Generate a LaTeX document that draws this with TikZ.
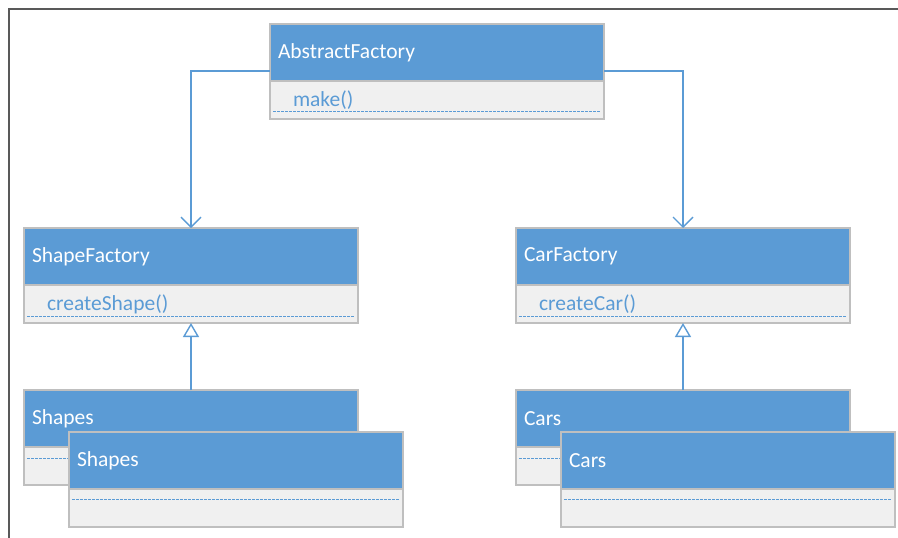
\documentclass[tikz,border=0pt]{standalone}
\usepackage{fontspec}
\setmainfont{Carlito}
\usetikzlibrary{positioning,arrows.meta}
\definecolor{hdrblue}{HTML}{5B9BD5}
\definecolor{bodygray}{HTML}{F0F0F0}
\definecolor{edgegray}{HTML}{BFBFBF}
\definecolor{framegray}{HTML}{595959}
\tikzset{
  head/.style={draw=edgegray, line width=1.2pt, fill=hdrblue, text=white,
    minimum width=334pt, minimum height=57pt, text width=318pt, inner xsep=8pt,
    align=left, anchor=north west, outer sep=0pt, font=\fontsize{21.5}{25}\selectfont},
  ops/.style={draw=edgegray, line width=1.2pt, fill=bodygray, text=hdrblue,
    minimum width=334pt, minimum height=38pt, text width=288pt, inner xsep=23pt,
    inner ysep=0pt, align=left, outer sep=0pt, font=\fontsize{21.5}{25}\selectfont},
  sep/.style={hdrblue, line width=1pt, dash pattern=on 2.5pt off 1.5pt},
  assoc/.style={hdrblue, line width=1.4pt, -{Straight Barb[length=10pt,width=20pt]}},
  inherit/.style={hdrblue, line width=1.4pt, -{Triangle[open,length=14pt,width=16pt]}}
}
\begin{document}
\begin{tikzpicture}[x=1pt, y=-1pt]
\useasboundingbox (0,0) rectangle (898,538);
\draw[framegray, line width=2pt] (8.5,538) -- (8.5,8.5) -- (898,8.5);

% abstract factory
\node[head] (absHead) at (270,24) {AbstractFactory};
\node[ops, below=0pt of absHead] (absOps) {make()};
\draw[sep] ([xshift=3pt,yshift=8pt]absOps.south west) -- ([xshift=-3pt,yshift=8pt]absOps.south east);

% concrete factories
\node[head] (sfHead) at (24,228) {ShapeFactory};
\node[ops, below=0pt of sfHead] (sfOps) {createShape()};
\draw[sep] ([xshift=3pt,yshift=7pt]sfOps.south west) -- ([xshift=-3pt,yshift=7pt]sfOps.south east);

\node[head] (cfHead) at (516,228) {CarFactory};
\node[ops, below=0pt of cfHead] (cfOps) {createCar()};
\draw[sep] ([xshift=3pt,yshift=7pt]cfOps.south west) -- ([xshift=-3pt,yshift=7pt]cfOps.south east);

% products
\node[head] (shpBackHead) at (24,390) {Shapes};
\node[ops, below=0pt of shpBackHead] (shpBackOps) {};
\draw[sep] ([xshift=3pt,yshift=-11pt]shpBackOps.north west) -- ([xshift=-3pt,yshift=-11pt]shpBackOps.north east);
\node[head] (shpHead) at (69,432) {Shapes};
\node[ops, below=0pt of shpHead] (shpOps) {};
\draw[sep] ([xshift=3pt,yshift=-10pt]shpOps.north west) -- ([xshift=-3pt,yshift=-10pt]shpOps.north east);

\node[head] (carBackHead) at (516,390) {Cars};
\node[ops, below=0pt of carBackHead] (carBackOps) {};
\draw[sep] ([xshift=3pt,yshift=-11pt]carBackOps.north west) -- ([xshift=-3pt,yshift=-11pt]carBackOps.north east);
\node[head] (carHead) at (561,432) {Cars};
\node[ops, below=0pt of carHead] (carOps) {};
\draw[sep] ([xshift=3pt,yshift=-10pt]carOps.north west) -- ([xshift=-3pt,yshift=-10pt]carOps.north east);

% connectors
\draw[assoc] ([yshift=10pt]absHead.south west) -| (sfHead.north);
\draw[assoc] ([yshift=10pt]absHead.south east) -| (cfHead.north);
\draw[inherit] (shpBackHead.north) -- (sfOps.south);
\draw[inherit] (carBackHead.north) -- (cfOps.south);
\end{tikzpicture}
\end{document}
